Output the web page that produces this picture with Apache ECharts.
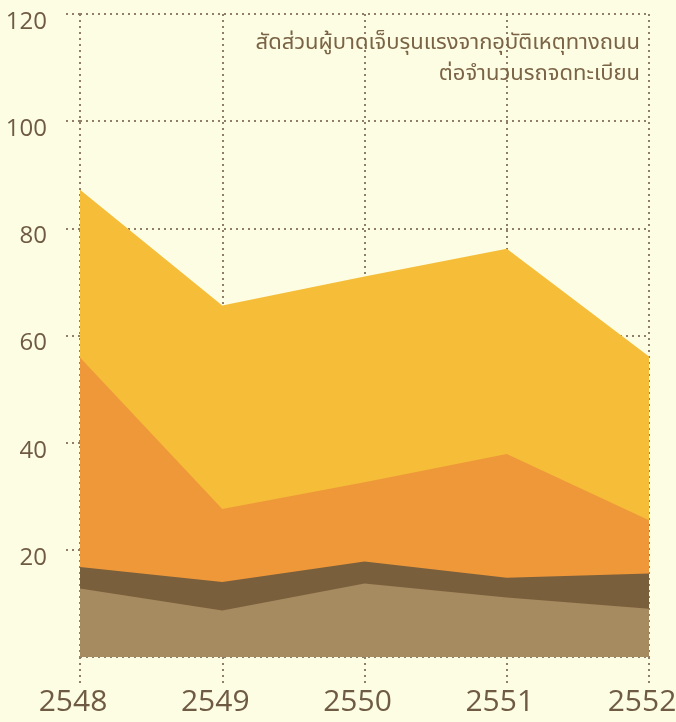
<!DOCTYPE html>
<html>
<head>
<meta charset="utf-8">
<script src="https://cdn.jsdelivr.net/npm/echarts@6/dist/echarts.min.js"></script>
<style>
html,body{margin:0;padding:0;background:#fdfde4;}
#c{width:676px;height:722px;}
</style>
</head>
<body>
<div id="c"></div>
<script>
var years = ['2548', '2549', '2550', '2551', '2552'];
var yTicks = [0, 20, 40, 60, 80, 100, 120];
var seriesNames = ['s1', 's2', 's3', 's4'];
var yellowVals = [87.2, 65.6, 71.0, 76.2, 56.1];
var orangeVals = [55.9, 27.6, 32.6, 37.9, 25.5];
var darkBrownVals = [16.8, 14.0, 17.8, 14.8, 15.6];
var lightBrownVals = [12.8, 8.7, 13.7, 11.1, 9.0];
var titleLines = ['สัดส่วนผู้บาดเจ็บรุนแรงจากอุบัติเหตุทางถนน', 'ต่อจำนวนรถจดทะเบียน'];

var colors = ['#f5bd38', '#ef983a', '#7a5f3c', '#a68a60'];
var dotLine = {color: '#8f7f68', width: 2, type: [2, 4]};
var textColor = '#6f5b44';
var thaiFont = '"Noto Sans Thai", "Noto Sans", "DejaVu Sans", sans-serif';

var chart = echarts.init(document.getElementById('c'));
function area(name, data, color) {
  return {
    name: name, type: 'line', data: data, symbol: 'none', silent: true,
    lineStyle: {width: 0}, areaStyle: {color: color, opacity: 1},
    itemStyle: {color: color}
  };
}
chart.setOption({
  backgroundColor: '#fdfde4',
  animation: false,
  graphic: [
    {type: 'text', x: 640, y: 45, z: 10,
     style: {text: titleLines[0], fill: '#7b6446', fontSize: 22, fontFamily: thaiFont,
             align: 'right', verticalAlign: 'middle'}},
    {type: 'text', x: 640, y: 76, z: 10,
     style: {text: titleLines[1], fill: '#7b6446', fontSize: 22, fontFamily: thaiFont,
             align: 'right', verticalAlign: 'middle'}}
  ],
  grid: {left: 80, right: 27, top: 14, bottom: 65, containLabel: false, outerBoundsMode: 'none'},
  xAxis: {
    type: 'category', data: years, boundaryGap: false,
    axisLine: {show: false},
    axisTick: {show: true, alignWithLabel: true, length: 26, lineStyle: dotLine},
    splitLine: {show: true, lineStyle: dotLine},
    axisLabel: {fontSize: 30, color: textColor, margin: 30, padding: [0, 14, 0, 0],
      fontFamily: '"Open Sans", sans-serif'}
  },
  yAxis: {
    type: 'value', min: yTicks[0], max: yTicks[yTicks.length - 1], interval: 20,
    axisLine: {show: false},
    axisTick: {show: true, length: 18, lineStyle: dotLine},
    splitLine: {show: true, lineStyle: dotLine},
    axisLabel: {fontSize: 24, color: textColor, margin: 33, showMinLabel: false,
      verticalAlign: 'top', padding: [-4, 0, 0, 0],
      fontFamily: '"Open Sans", sans-serif'}
  },
  series: [
    area(seriesNames[0], yellowVals, colors[0]),
    area(seriesNames[1], orangeVals, colors[1]),
    area(seriesNames[2], darkBrownVals, colors[2]),
    area(seriesNames[3], lightBrownVals, colors[3])
  ]
});
</script>
</body>
</html>
